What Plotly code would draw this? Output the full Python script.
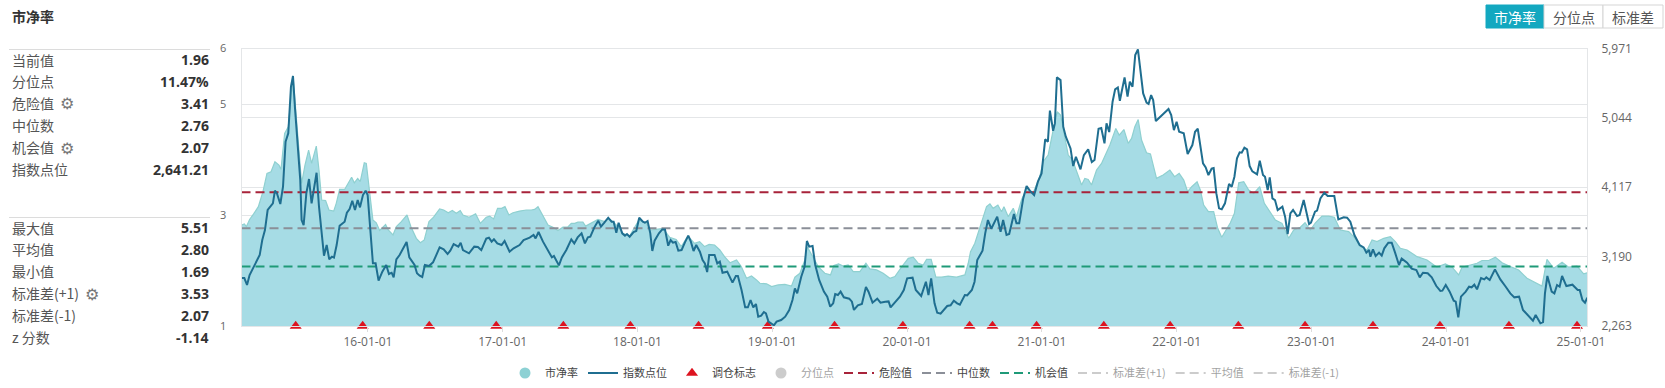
import plotly.graph_objects as go

W, H = 1665, 388

pb_years = [2015.063,2015.083,2015.098,2015.122,2015.152,2015.187,2015.221,2015.251,2015.281,2015.310,2015.340,2015.355,2015.382,2015.409,2015.444,2015.469,2015.493,2015.508,2015.533,2015.560,2015.582,2015.617,2015.637,2015.657,2015.686,2015.711,2015.746,2015.765,2015.790,2015.827,2015.879,2015.899,2015.924,2015.943,2015.973,2015.988,
2016.008,2016.037,2016.062,2016.087,2016.131,2016.151,2016.186,2016.211,2016.248,2016.290,2016.319,2016.359,2016.389,2016.418,2016.453,2016.487,2016.532,2016.562,2016.596,2016.626,2016.656,2016.685,2016.705,2016.750,2016.799,2016.834,2016.878,2016.903,2016.933,2016.962,2016.992,
2017.017,2017.046,2017.076,2017.125,2017.175,2017.212,2017.237,2017.262,2017.299,2017.336,2017.373,2017.410,2017.447,2017.482,2017.509,2017.534,2017.558,2017.595,2017.615,2017.657,2017.707,2017.756,2017.783,2017.818,2017.855,2017.892,2017.942,2017.979,
2018.011,2018.065,2018.095,2018.139,2018.189,2018.238,2018.287,2018.325,2018.374,2018.423,2018.461,2018.498,2018.532,2018.572,2018.611,2018.646,2018.686,2018.735,2018.770,2018.809,2018.846,2018.883,2018.908,2018.958,2018.995,
2019.044,2019.094,2019.143,2019.168,2019.205,2019.242,2019.259,2019.304,2019.341,2019.390,2019.432,2019.457,2019.492,2019.526,2019.563,2019.601,2019.650,2019.695,2019.724,2019.774,2019.823,2019.873,2019.910,2019.959,
2020.009,2020.046,2020.083,2020.120,2020.145,2020.179,2020.214,2020.256,2020.305,2020.367,2020.429,2020.454,2020.471,2020.503,2020.540,2020.590,2020.615,2020.639,2020.674,2020.701,2020.719,2020.751,2020.788,2020.812,2020.849,2020.887,2020.936,2020.985,
2021.010,2021.047,2021.084,2021.114,2021.139,2021.171,2021.196,2021.228,2021.257,2021.295,2021.319,2021.344,2021.369,2021.406,2021.443,2021.480,2021.505,2021.549,2021.574,2021.609,2021.641,2021.666,2021.690,2021.715,2021.740,2021.777,2021.806,2021.851,2021.900,2021.950,2021.985,
2022.019,2022.053,2022.082,2022.112,2022.152,2022.176,2022.201,2022.236,2022.275,2022.305,2022.335,2022.364,2022.399,2022.429,2022.461,2022.498,2022.535,2022.572,2022.617,2022.651,2022.691,2022.733,2022.782,2022.832,2022.869,2022.918,2022.953,2022.992,
2023.030,2023.079,2023.128,2023.170,2023.215,2023.277,2023.314,2023.363,2023.413,2023.450,2023.487,2023.537,2023.586,2023.623,2023.660,2023.710,2023.784,2023.858,2023.932,2023.994,
2024.044,2024.093,2024.118,2024.180,2024.229,2024.266,2024.316,2024.365,2024.415,2024.476,2024.538,2024.600,2024.649,2024.711,2024.748,2024.798,2024.860,2024.909,2024.971,2025.020,2025.047]

pb_values = [2.82,2.84,2.79,2.92,3.02,3.15,3.42,3.75,3.78,3.96,3.90,3.82,4.47,4.59,5.51,4.77,3.93,3.57,3.90,4.17,3.93,4.24,3.81,3.27,3.26,3.09,3.07,3.21,3.46,3.46,3.68,3.58,3.66,3.60,3.94,3.93,
3.51,2.91,2.86,2.72,2.83,2.73,2.64,2.79,2.88,3.00,2.79,2.58,2.50,2.55,2.88,2.96,3.11,3.09,3.04,3.08,3.03,3.08,3.00,2.96,3.02,2.85,2.96,2.98,2.93,3.12,3.12,
3.15,3.00,3.04,3.07,3.09,3.09,3.10,3.15,2.97,2.82,2.78,2.72,2.78,2.78,2.85,2.85,2.87,2.87,2.80,2.85,2.92,2.88,2.94,2.88,2.79,2.67,2.62,2.78,
2.91,2.85,2.73,2.74,2.76,2.60,2.56,2.43,2.62,2.49,2.52,2.43,2.47,2.46,2.37,2.25,2.14,2.19,2.07,1.86,1.90,1.83,1.77,1.76,1.71,
1.74,1.75,1.72,1.88,1.95,2.19,2.43,2.22,2.07,1.95,1.92,2.09,2.12,2.08,2.10,1.98,1.98,2.13,2.03,2.01,1.95,1.86,1.89,2.06,
2.22,2.24,2.13,2.10,2.20,2.20,1.88,1.88,1.90,1.88,1.92,2.13,2.34,2.49,2.76,3.15,3.20,3.12,3.18,3.06,3.15,2.97,3.12,2.97,3.27,3.48,3.40,3.69,
3.96,4.08,4.53,4.86,4.80,4.41,4.08,3.99,3.81,3.54,3.66,3.64,3.54,3.81,3.93,4.14,4.26,4.56,4.44,4.54,4.29,4.38,4.59,4.72,4.35,4.12,4.10,3.66,3.72,3.81,3.69,
3.75,3.63,3.42,3.51,3.60,3.45,3.18,3.06,3.06,2.76,2.60,2.73,2.86,3.03,3.58,3.60,3.45,3.39,3.51,3.21,3.06,2.91,2.85,2.58,2.73,2.78,2.86,2.73,
2.86,2.98,2.98,2.96,2.73,2.70,2.61,2.43,2.37,2.55,2.52,2.58,2.61,2.52,2.40,2.37,2.25,2.19,2.06,2.12,
2.06,1.92,2.06,2.10,2.13,2.18,2.18,2.24,2.14,2.07,2.01,1.86,1.80,1.72,2.20,2.04,2.15,2.06,2.08,1.94,1.96]

index_years = [2015.063,2015.083,2015.103,2015.122,2015.147,2015.172,2015.197,2015.216,2015.236,2015.256,2015.281,2015.295,2015.310,2015.325,2015.350,2015.370,2015.389,2015.409,2015.429,2015.444,2015.459,2015.478,2015.498,2015.508,2015.523,2015.543,2015.563,2015.582,2015.602,2015.619,2015.637,2015.657,2015.674,2015.694,2015.713,2015.733,2015.748,2015.768,2015.790,2015.827,2015.844,2015.864,2015.884,2015.904,2015.924,2015.941,2015.963,2015.983,2015.998,
2016.018,2016.037,2016.057,2016.079,2016.107,2016.136,2016.156,2016.176,2016.191,2016.211,2016.235,2016.260,2016.287,2016.307,2016.327,2016.346,2016.364,2016.384,2016.403,2016.423,2016.453,2016.483,2016.507,2016.532,2016.562,2016.591,2016.611,2016.636,2016.671,2016.688,2016.705,2016.750,2016.789,2016.816,2016.841,2016.878,2016.898,2016.918,2016.935,2016.960,2016.992,
2017.014,2017.051,2017.081,2017.125,2017.155,2017.200,2017.229,2017.244,2017.266,2017.299,2017.336,2017.365,2017.380,2017.417,2017.439,2017.472,2017.509,2017.531,2017.556,2017.585,2017.610,2017.632,2017.650,2017.680,2017.709,2017.729,2017.754,2017.783,2017.808,2017.823,2017.843,2017.860,2017.887,2017.907,2017.922,2017.942,2017.971,2017.991,
2018.013,2018.040,2018.055,2018.075,2018.095,2018.110,2018.127,2018.159,2018.184,2018.204,2018.228,2018.246,2018.263,2018.283,2018.303,2018.327,2018.352,2018.377,2018.396,2018.416,2018.436,2018.463,2018.483,2018.500,2018.517,2018.532,2018.572,2018.592,2018.611,2018.631,2018.666,2018.705,2018.730,2018.745,2018.772,2018.799,2018.819,2018.839,2018.859,2018.879,2018.896,2018.918,2018.938,2018.953,2018.972,2018.992,
2019.012,2019.032,2019.066,2019.096,2019.126,2019.150,2019.168,2019.185,2019.215,2019.240,2019.257,2019.274,2019.299,2019.319,2019.348,2019.383,2019.408,2019.430,2019.452,2019.467,2019.487,2019.507,2019.531,2019.571,2019.591,2019.606,2019.635,2019.665,2019.695,2019.714,2019.744,2019.779,2019.803,2019.838,2019.863,2019.878,2019.907,2019.947,2019.976,
2020.001,2020.041,2020.065,2020.105,2020.140,2020.159,2020.179,2020.204,2020.224,2020.249,2020.273,2020.298,2020.323,2020.347,2020.372,2020.392,2020.429,2020.446,2020.481,2020.501,2020.521,2020.560,2020.580,2020.600,2020.625,2020.669,2020.694,2020.713,2020.738,2020.758,2020.793,2020.812,2020.832,2020.862,2020.887,2020.911,2020.943,2020.971,2020.998,
2021.025,2021.045,2021.060,2021.084,2021.097,2021.112,2021.139,2021.159,2021.178,2021.213,2021.233,2021.253,2021.287,2021.312,2021.344,2021.371,2021.391,2021.421,2021.441,2021.465,2021.480,2021.500,2021.525,2021.544,2021.564,2021.579,2021.614,2021.636,2021.653,2021.673,2021.693,2021.713,2021.732,2021.752,2021.777,2021.792,2021.811,2021.826,2021.846,2021.876,2021.940,2021.960,2021.980,
2022.000,2022.019,2022.053,2022.082,2022.117,2022.137,2022.157,2022.176,2022.196,2022.216,2022.236,2022.260,2022.275,2022.295,2022.315,2022.335,2022.359,2022.389,2022.409,2022.429,2022.448,2022.468,2022.483,2022.503,2022.523,2022.542,2022.562,2022.597,2022.617,2022.641,2022.656,2022.676,2022.691,2022.711,2022.730,2022.750,2022.785,2022.805,2022.824,2022.844,2022.864,2022.894,2022.913,2022.943,2022.983,2022.997,
2023.027,2023.042,2023.067,2023.096,2023.121,2023.170,2023.200,2023.240,2023.265,2023.289,2023.319,2023.358,2023.388,2023.408,2023.428,2023.438,2023.457,2023.477,2023.502,2023.522,2023.541,2023.571,2023.596,2023.621,2023.650,2023.670,2023.710,2023.744,2023.779,2023.804,2023.828,2023.863,2023.893,2023.927,2023.957,2023.972,2023.997,
2024.026,2024.056,2024.071,2024.090,2024.110,2024.145,2024.170,2024.189,2024.209,2024.229,2024.259,2024.283,2024.298,2024.323,2024.362,2024.402,2024.442,2024.476,2024.506,2024.541,2024.570,2024.610,2024.644,2024.664,2024.699,2024.719,2024.733,2024.751,2024.783,2024.803,2024.823,2024.842,2024.860,2024.892,2024.937,2024.976,2024.991,2025.011,2025.030,2025.047]

index_values = [2904,2904,2811,2944,3033,3114,3211,3412,3545,3813,3871,3902,4071,4035,3893,4124,4726,4837,5460,5603,5171,4703,4213,3679,3612,4035,4227,3902,4124,4311,3857,3545,3203,3345,3154,3189,3176,3345,3603,3657,3777,3826,3937,3813,3946,3848,4013,4071,4013,
3545,3100,3100,2869,2989,3078,2958,2975,2913,3154,3211,3301,3385,3180,3122,3078,2967,2935,2918,3078,3065,3114,3211,3314,3287,3225,3269,3358,3323,3376,3278,3234,3323,3318,3278,3430,3443,3390,3421,3367,3345,
3399,3256,3301,3345,3412,3443,3479,3434,3519,3390,3278,3180,3198,3073,3180,3278,3421,3367,3447,3501,3367,3447,3456,3581,3670,3590,3643,3710,3657,3657,3510,3643,3501,3470,3492,3456,3519,3532,
3710,3657,3643,3666,3501,3265,3403,3501,3554,3554,3336,3412,3376,3385,3269,3278,3381,3470,3390,3265,3345,3256,3145,3100,2984,3211,3211,3100,3122,2975,2989,2842,2931,2931,2744,2512,2512,2610,2512,2557,2388,2401,2450,2432,2321,2299,
2272,2321,2343,2388,2477,2610,2766,2699,2922,3056,3399,3323,3332,3078,2878,2722,2655,2521,2566,2690,2677,2722,2646,2628,2588,2477,2539,2557,2784,2722,2575,2628,2575,2588,2592,2512,2566,2655,2744,
2900,2909,2744,2664,2855,2677,2900,2566,2441,2428,2477,2530,2539,2601,2566,2548,2677,2673,2744,2855,3145,3269,3501,3679,3563,3724,3523,3679,3479,3492,3759,3635,3635,3968,4133,4071,4013,4191,4302,
4757,4726,5140,4872,4970,5585,5549,4926,4792,4636,4400,4525,4356,4547,4623,4454,4481,4899,4908,4703,4970,4855,5260,5425,5451,5273,5585,5327,5527,5460,5883,5959,5638,5371,5247,5229,5349,5282,5002,5051,5162,5082,4881,
4993,4859,4837,4561,4681,4859,4899,4659,4436,4383,4280,4365,4374,4035,3835,3822,3902,4160,4124,4258,4503,4583,4579,4645,4623,4400,4329,4289,4472,4280,4258,4080,4249,3968,3946,3813,3857,3724,3492,3768,3813,3732,3746,3946,3626,3643,
3790,3804,3968,4044,4000,4000,3688,3715,3710,3657,3479,3345,3314,3243,3278,3189,3287,3198,3243,3203,3301,3376,3376,3243,3078,3163,3109,3029,3011,2913,2975,2967,2913,2797,2731,2735,2811,
2722,2601,2588,2379,2655,2722,2788,2780,2815,2753,2904,2886,2913,2878,3020,2886,2788,2699,2646,2655,2477,2405,2334,2410,2299,2316,2699,2931,2722,2699,2811,2788,2931,2797,2815,2744,2744,2610,2575,2642]

rebalance_years = [2015.464,2015.961,2016.455,2016.952,2017.450,2017.947,2018.453,2018.967,2019.462,2019.969,2020.464,2020.634,2020.961,2021.460,2021.952,2022.458,2022.953,2023.457,2023.954,2024.466,2024.971]
rebalance_values = [1] * len(rebalance_years)

x_start, x_end = 2015.062, 2025.045
danger, median, chance = 3.41, 2.76, 2.07
std_plus, mean, std_minus = 3.53, 2.80, 2.07
percentile_now = 11.47

year_ticks = [2016,2017,2018,2019,2020,2021,2022,2023,2024,2025]
year_labels = ["16-01-01","17-01-01","18-01-01","19-01-01","20-01-01","21-01-01","22-01-01","23-01-01","24-01-01","25-01-01"]
left_ticks = [1,3,5,6]
right_ticks = [2263,3190,4117,5044,5971]

panel_top = [("当前值","1.96"),("分位点","11.47%"),("危险值","3.41"),("中位数","2.76"),("机会值","2.07"),("指数点位","2,641.21")]
panel_bottom = [("最大值","5.51"),("平均值","2.80"),("最小值","1.69"),("标准差(+1)","3.53"),("标准差(-1)","2.07"),("z 分数","-1.14")]
buttons = ["市净率","分位点","标准差"]

FONT = "'Open Sans','Noto Sans CJK SC',sans-serif"
CJK = "'Noto Sans CJK SC','Open Sans',sans-serif"
GRID = "#e4e6e8"

def px(x): return x / W
def py(y): return 1 - y / H

fig = go.Figure()

fig.add_trace(go.Scatter(x=pb_years, y=pb_values, mode="lines", fill="tozeroy",
    fillcolor="#a6dce5", line=dict(color="#8fd0d0", width=1.2), showlegend=False, hoverinfo="skip"))

fig.add_trace(go.Scatter(x=[None], y=[None], mode="markers", name="市净率",
    marker=dict(color="#8dd1d4", size=11, symbol="circle")))

def hline(name, val, color, visible=True):
    fig.add_trace(go.Scatter(x=[x_start, x_end], y=[val, val], mode="lines", name=name,
        visible=visible, line=dict(color=color, width=2, dash="9px,5px")))

fig.add_trace(go.Scatter(x=index_years, y=index_values, mode="lines", name="指数点位", yaxis="y2",
    line=dict(color="#1f6e90", width=2)))
fig.add_trace(go.Scatter(x=rebalance_years, y=rebalance_values, mode="markers", name="调仓标志", cliponaxis=False,
    marker=dict(color="#dd1420", size=10.5, symbol="triangle-up")))
fig.add_trace(go.Scatter(x=[x_end], y=[percentile_now], mode="markers", name="分位点", visible="legendonly",
    marker=dict(color="#9a9a9a", size=11)))
hline("危险值", danger, "#a8233a")
hline("中位数", median, "#8b8f98")
hline("机会值", chance, "#1f9a78")
hline("标准差(+1)", std_plus, "#9a9a9a", "legendonly")
hline("平均值", mean, "#9a9a9a", "legendonly")
hline("标准差(-1)", std_minus, "#9a9a9a", "legendonly")

ann, shp = [], []

def text(x, y, s, size=14, color="#444", anchor="left", bold=False, font=CJK):
    ann.append(dict(x=px(x), y=py(y), xref="paper", yref="paper", text=f"<b>{s}</b>" if bold else s,
        showarrow=False, xanchor=anchor, yanchor="middle", font=dict(size=size, color=color, family=font)))

text(10, 16, "市净率", 14, "#333", bold=True)

for rule_y, y0, rows in ((49.5, 59.5, panel_top), (217.5, 227.5, panel_bottom)):
    shp.append(dict(type="line", xref="paper", yref="paper", x0=px(9), x1=px(210), y0=py(rule_y), y1=py(rule_y),
        line=dict(color="#dcdcdc", width=1)))
    for i, (k, v) in enumerate(rows):
        y = y0 + i * 21.9
        text(10, y, k, 14, "#555")
        text(211, y, v, 14, "#333", "right", True, FONT)

for x, y in ((67, 104), (67, 148), (92, 294)):
    text(x, y, "⚙", 16, "#777", "center", font="'DejaVu Sans'")

edges = [1486, 1544, 1603, 1663]
for i, b in enumerate(buttons):
    shp.append(dict(type="rect", xref="paper", yref="paper", x0=px(edges[i]), x1=px(edges[i + 1]), y0=py(5), y1=py(28),
        fillcolor="#13a8c0" if i == 0 else "#ffffff", line=dict(color="#13a8c0" if i == 0 else "#d5d5d5", width=1)))
    text((edges[i] + edges[i + 1]) / 2, 17, b, 14, "#ffffff" if i == 0 else "#555", "center")

fig.update_layout(
    width=W, height=H, autosize=False, margin=dict(l=0, r=0, t=0, b=0, autoexpand=False),
    paper_bgcolor="#ffffff", plot_bgcolor="#ffffff", font=dict(family=FONT, size=12, color="#666"),
    annotations=ann, shapes=shp, hovermode=False,
    xaxis=dict(domain=[px(241.5), px(1587)], range=[x_start, x_end], tickmode="array", tickvals=year_ticks, ticktext=year_labels,
        showgrid=False, zeroline=False, showline=True, linecolor=GRID, mirror=True, ticks="outside", ticklen=5, tickcolor="#dddddd",
        tickfont=dict(size=12, color="#666")),
    yaxis=dict(domain=[py(326), py(48.5)], range=[1, 6], tickmode="array", tickvals=left_ticks, showgrid=True, gridcolor=GRID,
        gridwidth=1, zeroline=False, showline=True, linecolor=GRID, ticks="", ticklabelstandoff=12,
        tickfont=dict(size=11, color="#666")),
    yaxis2=dict(overlaying="y", side="right", range=[2263, 5971], tickmode="array", tickvals=right_ticks, tickformat=",d",
        showgrid=True, gridcolor=GRID, gridwidth=1, zeroline=False, showline=True, linecolor=GRID, ticks="", ticklabelstandoff=11,
        tickfont=dict(size=12, color="#666")),
    legend=dict(orientation="h", x=px(925), xanchor="center", y=py(373), yanchor="middle", font=dict(size=11, color="#444", family=CJK),
        itemwidth=30, traceorder="normal", bgcolor="rgba(0,0,0,0)"),
)

fig.write_html("out.html", config={"displayModeBar": False}, post_script="document.body.style.margin='0';")
